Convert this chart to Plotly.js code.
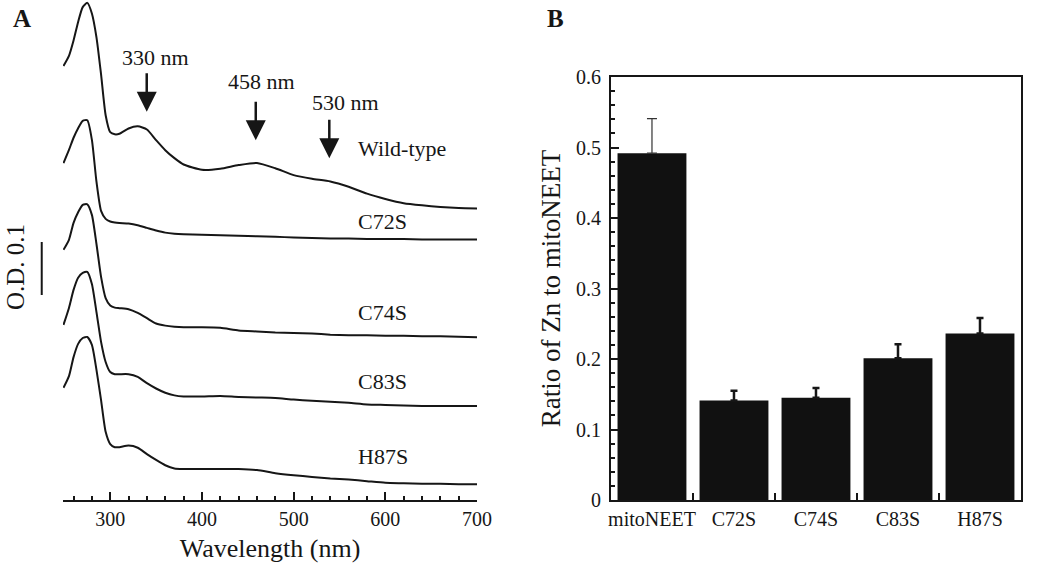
<!DOCTYPE html>
<html>
<head>
<meta charset="utf-8">
<script src="https://cdn.plot.ly/plotly-3.0.1.min.js"></script>
<style>
    body { margin: 0; background: #fff; }
    #chart { width: 1050px; height: 566px; }
</style>
</head>
<body>
<div id="chart"></div>
<script>
// panel A - absorption spectra (O.D. above each trace's 700 nm level)
var wavelengths = [249, 255, 260, 265, 270, 275, 280, 285, 290, 295, 300, 305, 310, 320, 330, 340, 350, 360, 370, 380,
                   400, 420, 440, 460, 480, 500, 520, 540, 560, 580, 600, 620, 640, 660, 680, 700];
var wildType = [0.269, 0.288, 0.317, 0.352, 0.380, 0.388, 0.368, 0.323, 0.253, 0.176, 0.144, 0.140, 0.141, 0.151, 0.155, 0.149, 0.129, 0.110, 0.095, 0.083,
                0.073, 0.075, 0.082, 0.086, 0.076, 0.063, 0.056, 0.051, 0.041, 0.028, 0.018, 0.010, 0.006, 0.003, 0.001, 0];
var c72s = [0.144, 0.169, 0.192, 0.210, 0.224, 0.225, 0.188, 0.109, 0.054, 0.039, 0.034, 0.032, 0.031, 0.030, 0.027, 0.022, 0.017, 0.013, 0.011, 0.010,
            0.009, 0.008, 0.007, 0.006, 0.005, 0.004, 0.003, 0.002, 0.002, 0.001, 0.001, 0.001, 0, 0, 0, 0];
var c74s = [0.165, 0.184, 0.216, 0.236, 0.250, 0.251, 0.231, 0.176, 0.114, 0.074, 0.060, 0.056, 0.055, 0.053, 0.046, 0.036, 0.026, 0.022, 0.020, 0.019,
            0.019, 0.018, 0.013, 0.011, 0.009, 0.008, 0.007, 0.005, 0.004, 0.004, 0.003, 0.003, 0.002, 0.002, 0.001, 0];
var c83s = [0.153, 0.185, 0.219, 0.242, 0.251, 0.253, 0.230, 0.177, 0.121, 0.083, 0.064, 0.060, 0.060, 0.060, 0.055, 0.043, 0.033, 0.025, 0.020, 0.018,
            0.018, 0.019, 0.017, 0.016, 0.015, 0.012, 0.010, 0.008, 0.006, 0.003, 0.002, 0.001, 0, 0, 0, 0];
var h87s = [0.182, 0.204, 0.240, 0.265, 0.276, 0.278, 0.263, 0.216, 0.159, 0.099, 0.076, 0.070, 0.070, 0.073, 0.069, 0.057, 0.046, 0.036, 0.030, 0.029,
            0.029, 0.029, 0.029, 0.027, 0.021, 0.017, 0.014, 0.011, 0.009, 0.006, 0.003, 0.002, 0.001, 0.001, 0, 0];
var spectrumNames = ['Wild-type', 'C72S', 'C74S', 'C83S', 'H87S'];
var spectrumOffsets = [0.550, 0.4915, 0.307, 0.1774, 0.0296]; // vertical stacking of the traces

// panel B - Zn content
var mutants = ['mitoNEET', 'C72S', 'C74S', 'C83S', 'H87S'];
var znRatio = [0.492, 0.141, 0.145, 0.201, 0.236];
var znError = [0.049, 0.014, 0.014, 0.020, 0.022];

var FONT = 'Liberation Serif, Times New Roman, serif';
var INK = '#161616';

var spectra = [wildType, c72s, c74s, c83s, h87s];
var traceList = [];
var annotationList = [];
var labelY = [0.664, 0.526, 0.353, 0.223, 0.083];

for (var i = 0; i < spectra.length; i++) {
    var y = [];
    for (var j = 0; j < wavelengths.length; j++) {
        y.push(spectra[i][j] + spectrumOffsets[i]);
    }
    traceList.push({
        x: wavelengths,
        y: y,
        name: spectrumNames[i],
        type: 'scatter',
        mode: 'lines',
        line: { color: INK, width: 2, shape: 'spline', smoothing: 0.6 },
        xaxis: 'x',
        yaxis: 'y',
        showlegend: false
    });
    annotationList.push({
        xref: 'x', yref: 'y', x: 568, y: labelY[i],
        xanchor: 'left', yanchor: 'middle',
        text: spectrumNames[i], showarrow: false,
        font: { family: FONT, size: 22, color: INK }
    });
}

// bars: mitoNEET has a thin error bar, the mutants thick ones
var barStyle = { color: '#111111', line: { color: '#111111', width: 0 } };
traceList.push({
    x: mutants.slice(0, 1), y: znRatio.slice(0, 1),
    type: 'bar', marker: barStyle, width: 0.84,
    xaxis: 'x2', yaxis: 'y2', showlegend: false,
    error_y: { type: 'data', symmetric: false, array: znError.slice(0, 1), arrayminus: [0],
               color: '#333', thickness: 1.2, width: 5 }
});
traceList.push({
    x: mutants.slice(1), y: znRatio.slice(1),
    type: 'bar', marker: barStyle, width: 0.84,
    xaxis: 'x2', yaxis: 'y2', showlegend: false,
    error_y: { type: 'data', symmetric: false, array: znError.slice(1), arrayminus: [0, 0, 0, 0],
               color: INK, thickness: 2.5, width: 3.5 }
});

// arrows marking the cluster bands
var arrowTips = [[339.8, 0.7326], [458.7, 0.679], [538.9, 0.645]];
var arrowText = [['330 nm', 349.9, 0.834], ['458 nm', 465.2, 0.789], ['530 nm', 556.8, 0.750]];
for (var k = 0; k < arrowTips.length; k++) {
    annotationList.push({
        xref: 'x', yref: 'y', x: arrowTips[k][0], y: arrowTips[k][1],
        axref: 'pixel', ayref: 'pixel', ax: 0, ay: -40,
        text: '', showarrow: true, arrowhead: 2, arrowsize: 1.6, arrowwidth: 2.5,
        arrowcolor: INK, standoff: 0, startstandoff: 0
    });
    annotationList.push({
        xref: 'x', yref: 'y', x: arrowText[k][1], y: arrowText[k][2],
        xanchor: 'center', yanchor: 'middle',
        text: arrowText[k][0], showarrow: false,
        font: { family: FONT, size: 22, color: INK }
    });
}

annotationList.push({
    xref: 'paper', yref: 'paper', x: -0.0501, y: 0.466,
    xanchor: 'center', yanchor: 'middle',
    text: 'O.D. 0.1', textangle: -90, showarrow: false,
    font: { family: FONT, size: 25, color: INK }
});
annotationList.push({
    xref: 'paper', yref: 'paper', x: -0.0428, y: 0.964,
    xanchor: 'center', yanchor: 'middle',
    text: '<b>A</b>', showarrow: false,
    font: { family: FONT, size: 25, color: INK }
});
annotationList.push({
    xref: 'paper', yref: 'paper', x: 0.5146, y: 0.964,
    xanchor: 'center', yanchor: 'middle',
    text: '<b>B</b>', showarrow: false,
    font: { family: FONT, size: 25, color: INK }
});

var layout = {
    width: 1050,
    height: 566,
    margin: { l: 63, r: 29, t: 0, b: 66 },
    paper_bgcolor: '#fff',
    plot_bgcolor: 'rgba(0,0,0,0)',
    font: { family: FONT, size: 20, color: INK },
    bargap: 0.16,
    xaxis: {
        domain: [0, 0.4322],
        range: [248.5, 700],
        showgrid: false, zeroline: false,
        showline: true, linecolor: INK, linewidth: 2,
        ticks: 'inside', ticklen: 8, tickwidth: 2, tickcolor: INK,
        tick0: 0, dtick: 100,
        minor: { ticks: 'inside', dtick: 20, ticklen: 4, tickwidth: 2, tickcolor: INK },
        tickfont: { family: FONT, size: 20, color: INK },
        title: { text: 'Wavelength (nm)', font: { family: FONT, size: 26, color: INK }, standoff: 10 }
    },
    yaxis: {
        domain: [0, 1],
        range: [0, 0.9434],
        visible: false
    },
    xaxis2: {
        domain: [0.572, 1],
        anchor: 'y2',
        type: 'category',
        showgrid: false, zeroline: false,
        showline: true, mirror: true, linecolor: INK, linewidth: 2,
        ticks: 'inside', tickson: 'boundaries', ticklen: 7, tickwidth: 2, tickcolor: INK,
        tickangle: 0,
        tickfont: { family: FONT, size: 20, color: INK }
    },
    yaxis2: {
        domain: [0, 0.846],
        anchor: 'x2',
        range: [0, 0.6],
        showgrid: false, zeroline: false,
        showline: true, mirror: true, linecolor: INK, linewidth: 2,
        ticks: 'inside', ticklen: 8, tickwidth: 2, tickcolor: INK,
        dtick: 0.1, ticklabelstandoff: 4,
        minor: { ticks: 'inside', dtick: 0.02, ticklen: 4, tickwidth: 2, tickcolor: INK },
        tickfont: { family: FONT, size: 20, color: INK },
        title: { text: 'Ratio of Zn to mitoNEET', font: { family: FONT, size: 27, color: INK }, standoff: 8 }
    },
    shapes: [
        // 0.1 O.D. scale bar
        {
            type: 'line', xref: 'paper', yref: 'y',
            x0: -0.0222, x1: -0.0222, y0: 0.3868, y1: 0.4868,
            line: { color: INK, width: 2 }
        }
    ],
    annotations: annotationList
};

var configuration = { staticPlot: true, displayModeBar: false };
Plotly.newPlot('chart', traceList, layout, configuration);
</script>
</body>
</html>
